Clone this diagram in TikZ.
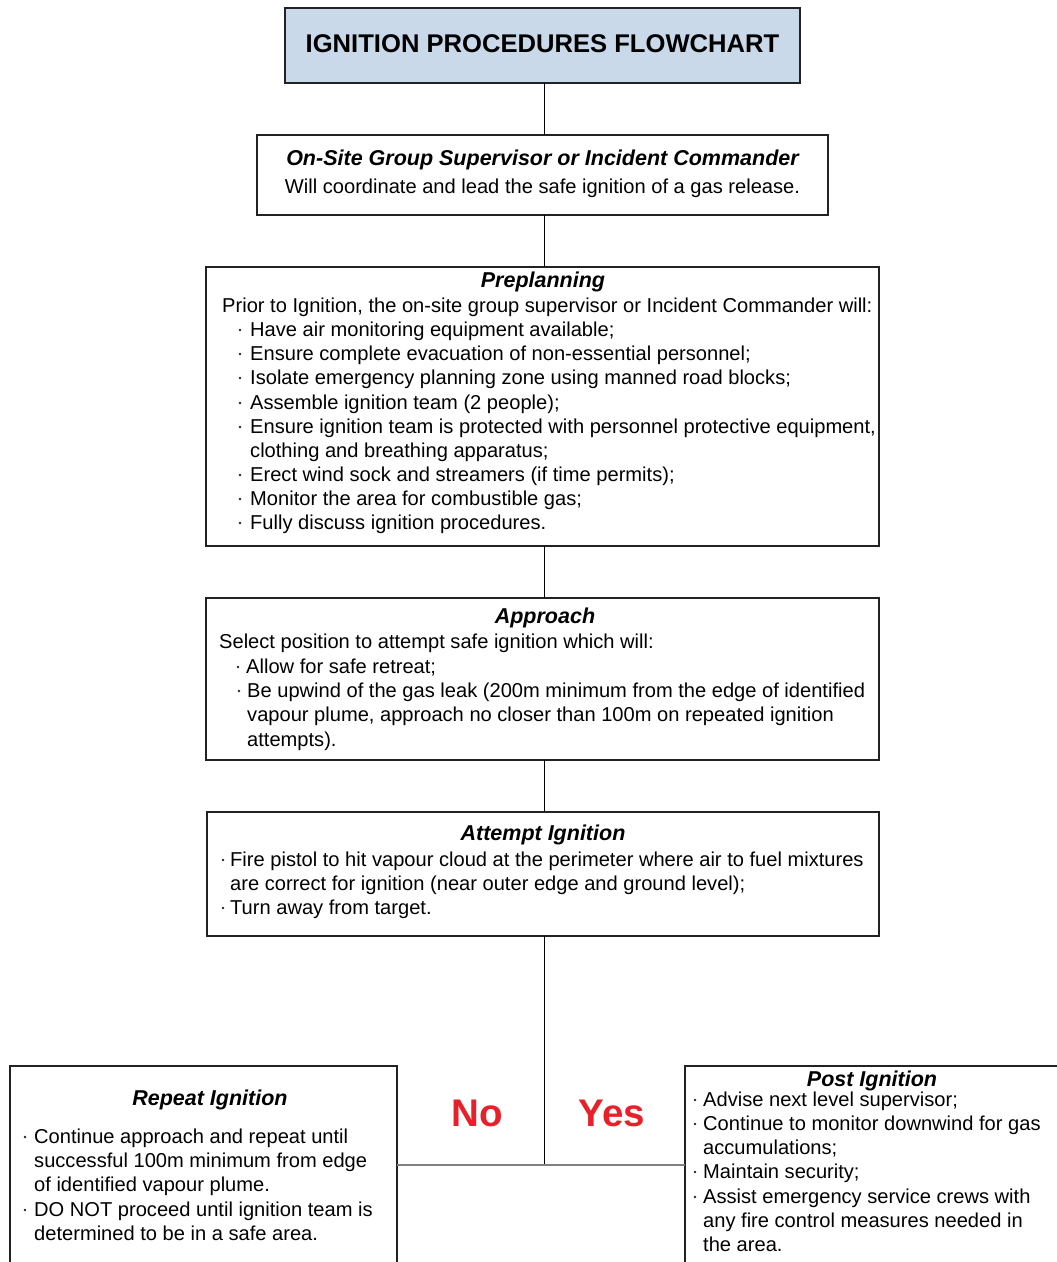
\documentclass[tikz,border=0pt]{standalone}
\usepackage{fontspec}
\setmainfont{Liberation Sans}
\definecolor{titlefill}{HTML}{C9D9EA}
\definecolor{yesno}{HTML}{E8202A}
\definecolor{boxline}{HTML}{222222}
\begin{document}
\begin{tikzpicture}[x=1pt,y=-1pt,
  box/.style={draw=boxline, line width=1.4pt, inner sep=0pt, outer sep=0pt, anchor=north west},
  txt/.style={anchor=base west, inner sep=0pt, font=\fontsize{20.1}{24}\selectfont},
  bul/.style={circle, fill=black!85, inner sep=0pt, minimum size=2.8pt},
  hd/.style={anchor=base, inner sep=0pt, font=\fontsize{21.5}{26}\selectfont\bfseries\itshape},
  ctr/.style={anchor=base, inner sep=0pt, font=\fontsize{20.1}{24}\selectfont},
  link/.style={draw=black, line width=0.9pt},
  ans/.style={anchor=base, inner sep=0pt, text=yesno, font=\fontsize{38.5}{44}\selectfont\bfseries},
]
\useasboundingbox (0,0) rectangle (1057,1262);
\clip (0,0) rectangle (1057,1262);

% boxes
\node[box, fill=titlefill, minimum width=515pt, minimum height=75pt] (title) at (285,8) {};
\node[box, minimum width=571pt, minimum height=80pt] (onsite) at (257,135) {};
\node[box, minimum width=673pt, minimum height=279pt] (prep) at (206,267) {};
\node[box, minimum width=673pt, minimum height=162pt] (appr) at (206,598) {};
\node[box, minimum width=672pt, minimum height=124pt] (att) at (207,812) {};
\node[box, minimum width=387pt, minimum height=260pt] (rep) at (10,1066) {};
\node[box, minimum width=400pt, minimum height=260pt] (post) at (685,1066) {};
\coordinate (junction) at (544,1165);

% connectors
\draw[link] (title.south -| 544,0) -- (onsite.north -| 544,0);
\draw[link] (onsite.south -| 544,0) -- (prep.north -| 544,0);
\draw[link] (prep.south -| 544,0) -- (appr.north -| 544,0);
\draw[link] (appr.south -| 544,0) -- (att.north -| 544,0);
\draw[link] (att.south -| junction) -- (junction);
\draw[draw=black!50, line width=1.4pt] (rep.east |- junction) -- (post.west |- junction);

% title
\node[anchor=base, inner sep=0pt, font=\fontsize{25.6}{30}\selectfont\bfseries] (ttl) at (542.5,52) {IGNITION PROCEDURES FLOWCHART};

% on-site
\node[hd] (os1) at (542.5,165) {On-Site Group Supervisor or Incident Commander};
\node[ctr] (os2) at (542.5,193) {Will coordinate and lead the safe ignition of a gas release.};

% preplanning
\node[hd] (ph) at (543,287) {Preplanning};
\node[txt] (p0) at (222,312) {Prior to Ignition, the on-site group supervisor or Incident Commander will:};
\foreach \yy/\tt [count=\i] in {336/{Have air monitoring equipment available;},
  360/{Ensure complete evacuation of non-essential personnel;},
  384/{Isolate emergency planning zone using manned road blocks;},
  409/{Assemble ignition team (2 people);},
  433/{Ensure ignition team is protected with personnel protective equipment,},
  481/{Erect wind sock and streamers (if time permits);},
  505/{Monitor the area for combustible gas;},
  529/{Fully discuss ignition procedures.}}{
  \node[bul] (pb\i) at (240,\yy-6) {};
  \node[txt] (pt\i) at (250,\yy) {\tt};
}
\node[txt] (pc) at (250,457) {clothing and breathing apparatus;};

% approach
\node[hd] (ah) at (545,623) {Approach};
\node[txt] (a0) at (219,648) {Select position to attempt safe ignition which will:};
\node[bul] (ab1) at (238,667) {};
\node[txt] (a1) at (246,673) {Allow for safe retreat;};
\node[bul] (ab2) at (239,691) {};
\node[txt] (a2) at (247,697) {Be upwind of the gas leak (200m minimum from the edge of identified};
\node[txt] (a3) at (247,721) {vapour plume, approach no closer than 100m on repeated ignition};
\node[txt] (a4) at (247,746) {attempts).};

% attempt
\node[hd] (th) at (543,840) {Attempt Ignition};
\node[bul] (tb1) at (223,860) {};
\node[txt] (t1) at (230,866) {Fire pistol to hit vapour cloud at the perimeter where air to fuel mixtures};
\node[txt] (t2) at (230,890) {are correct for ignition (near outer edge and ground level);};
\node[bul] (tb2) at (223,908) {};
\node[txt] (t3) at (230,914) {Turn away from target.};

% repeat
\node[hd] (rh) at (210,1105) {Repeat Ignition};
\node[bul] (rb1) at (25,1137) {};
\node[txt] (r1) at (34,1143) {Continue approach and repeat until};
\node[txt] (r2) at (34,1167) {successful 100m minimum from edge};
\node[txt] (r3) at (34,1191) {of identified vapour plume.};
\node[bul] (rb2) at (25,1210) {};
\node[txt] (r4) at (34,1216) {DO NOT proceed until ignition team is};
\node[txt] (r5) at (34,1240) {determined to be in a safe area.};

% post
\node[hd] (qh) at (872,1086) {Post Ignition};
\node[bul] (qb1) at (695,1100) {};
\node[txt] (q1) at (703,1106) {Advise next level supervisor;};
\node[bul] (qb2) at (695,1124) {};
\node[txt] (q2) at (703,1130) {Continue to monitor downwind for gas};
\node[txt] (q3) at (703,1154) {accumulations;};
\node[bul] (qb3) at (695,1172) {};
\node[txt] (q4) at (703,1178) {Maintain security;};
\node[bul] (qb4) at (695,1197) {};
\node[txt] (q5) at (703,1203) {Assist emergency service crews with};
\node[txt] (q6) at (703,1227) {any fire control measures needed in};
\node[txt] (q7) at (703,1251) {the area.};

% yes / no
\node[ans] (no) at (477,1126) {No};
\node[ans] (yes) at (612,1126) {Yes};
\end{tikzpicture}
\end{document}
